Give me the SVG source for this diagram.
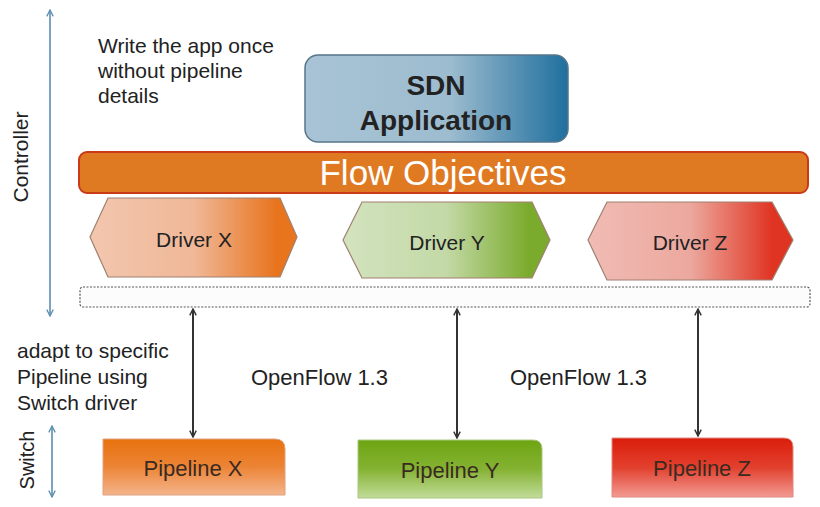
<svg xmlns="http://www.w3.org/2000/svg" width="820" height="507" viewBox="0 0 820 507">
<style>
text{font-family:"Liberation Sans",Arial,sans-serif;fill:#222}
.note{font-size:21px}
.drv{font-size:21px;text-anchor:middle}
.pl{font-size:22px;text-anchor:middle;fill:#3a2a20}
.axis{stroke:#5b8fb0;stroke-width:1.6;fill:none}
.conn{stroke:#333;stroke-width:2;fill:none}
.hex{stroke:#a08070;stroke-width:1.2}
</style>
<defs>
<marker id="ah" viewBox="0 0 10 10" refX="9" refY="5" markerWidth="8" markerHeight="8" orient="auto-start-reverse" markerUnits="userSpaceOnUse">
<path d="M1,1 L9,5 L1,9" fill="none" stroke="#333" stroke-width="1.8"/>
</marker>
<marker id="ab" viewBox="0 0 10 10" refX="9" refY="5" markerWidth="8" markerHeight="8" orient="auto-start-reverse" markerUnits="userSpaceOnUse">
<path d="M1,1 L9,5 L1,9" fill="none" stroke="#5b8fb0" stroke-width="1.6"/>
</marker>
<linearGradient id="gSdn" x1="0" y1="0" x2="1" y2="0">
<stop offset="0" stop-color="#a9c3d6"/><stop offset="0.55" stop-color="#9dbccf"/><stop offset="1" stop-color="#1f6f9e"/>
</linearGradient>
<linearGradient id="gDX" x1="0" y1="0" x2="1" y2="0">
<stop offset="0" stop-color="#f2c6ae"/><stop offset="0.5" stop-color="#f0b898"/><stop offset="0.9" stop-color="#e8741e"/><stop offset="1" stop-color="#e8741e"/>
</linearGradient>
<linearGradient id="gDY" x1="0" y1="0" x2="1" y2="0">
<stop offset="0" stop-color="#d3e3bf"/><stop offset="0.5" stop-color="#c3d9a6"/><stop offset="0.9" stop-color="#7aab2c"/><stop offset="1" stop-color="#7aab2c"/>
</linearGradient>
<linearGradient id="gDZ" x1="0" y1="0" x2="1" y2="0">
<stop offset="0" stop-color="#f0bcb4"/><stop offset="0.5" stop-color="#eca89e"/><stop offset="0.9" stop-color="#e03422"/><stop offset="1" stop-color="#e03422"/>
</linearGradient>
<linearGradient id="gPX" x1="0" y1="0" x2="0" y2="1">
<stop offset="0" stop-color="#e8720e"/><stop offset="0.5" stop-color="#ec8436"/><stop offset="1" stop-color="#f4b58c"/>
</linearGradient>
<linearGradient id="gPY" x1="0" y1="0" x2="0" y2="1">
<stop offset="0" stop-color="#6ea512"/><stop offset="0.5" stop-color="#84b232"/><stop offset="1" stop-color="#c2dc9a"/>
</linearGradient>
<linearGradient id="gPZ" x1="0" y1="0" x2="0" y2="1">
<stop offset="0" stop-color="#da1e0a"/><stop offset="0.5" stop-color="#e2402e"/><stop offset="1" stop-color="#f29a92"/>
</linearGradient>
</defs>

<g id="axis-controller">
<line class="axis" x1="50" y1="10" x2="50" y2="316" marker-start="url(#ab)" marker-end="url(#ab)"/>
<text x="28" y="157" font-size="21" text-anchor="middle" transform="rotate(-90 28 157)">Controller</text>
</g>
<g id="axis-switch">
<line class="axis" x1="52" y1="426" x2="52" y2="497" marker-start="url(#ab)" marker-end="url(#ab)"/>
<text x="34" y="460" font-size="20" text-anchor="middle" transform="rotate(-90 34 460)">Switch</text>
</g>

<g id="note-app">
<text class="note" x="98" y="53">Write the app once</text>
<text class="note" x="98" y="78">without pipeline</text>
<text class="note" x="98" y="103">details</text>
</g>
<g id="note-adapt">
<text class="note" x="17" y="358">adapt to specific</text>
<text class="note" x="17" y="384">Pipeline using</text>
<text class="note" x="17" y="410">Switch driver</text>
</g>

<g id="sdn-app">
<rect x="305" y="55" width="263" height="87" rx="13" fill="url(#gSdn)" stroke="#56768a" stroke-width="1.5"/>
<text x="436" y="95" font-size="28" font-weight="bold" text-anchor="middle" fill="#1a1a1a">SDN</text>
<text x="436" y="130" font-size="28" font-weight="bold" text-anchor="middle" fill="#1a1a1a">Application</text>
</g>

<g id="flow-objectives">
<rect x="79" y="152" width="729" height="41" rx="8" fill="#e07a22" stroke="#c83a18" stroke-width="2"/>
<text x="443" y="185" font-size="35" text-anchor="middle" style="fill:#fff">Flow Objectives</text>
</g>

<g id="driver-x">
<polygon class="hex" points="90,237 108,198 280,198 297,237 280,277 108,277" fill="url(#gDX)"/>
<text class="drv" x="194" y="247">Driver X</text>
</g>
<g id="driver-y">
<polygon class="hex" points="343,240 362,202 532,202 550,240 532,278 362,278" fill="url(#gDY)"/>
<text class="drv" x="447" y="250">Driver Y</text>
</g>
<g id="driver-z">
<polygon class="hex" points="588,240 607,202 772,202 793,240 772,280 607,280" fill="url(#gDZ)"/>
<text class="drv" x="690" y="250">Driver Z</text>
</g>

<g id="driver-layer">
<rect x="80" y="287" width="730" height="20" rx="3" fill="#fcfcfc" stroke="#555" stroke-width="1.2" stroke-dasharray="2,1.5"/>
</g>

<g id="pipeline-x">
<path d="M103,439 H275 Q285,439 285,449 V495 H103 Z" fill="url(#gPX)" stroke="#e0a080" stroke-width="1"/>
<text class="pl" x="193" y="476">Pipeline X</text>
</g>
<g id="pipeline-y">
<path d="M358,440 H533 Q542,440 542,449 V498 H358 Z" fill="url(#gPY)" stroke="#a8c880" stroke-width="1"/>
<text class="pl" x="450" y="478">Pipeline Y</text>
</g>
<g id="pipeline-z">
<path d="M612,438 H784 Q793,438 793,447 V497 H612 Z" fill="url(#gPZ)" stroke="#e08880" stroke-width="1"/>
<text class="pl" x="702" y="476">Pipeline Z</text>
</g>

<g id="connectors">
<line class="conn" x1="193" y1="309" x2="193" y2="437" marker-start="url(#ah)" marker-end="url(#ah)"/>
<line class="conn" x1="457" y1="309" x2="457" y2="438" marker-start="url(#ah)" marker-end="url(#ah)"/>
<line class="conn" x1="698" y1="309" x2="698" y2="436" marker-start="url(#ah)" marker-end="url(#ah)"/>
<text x="251" y="385" font-size="22">OpenFlow 1.3</text>
<text x="510" y="385" font-size="22">OpenFlow 1.3</text>
</g>
</svg>
